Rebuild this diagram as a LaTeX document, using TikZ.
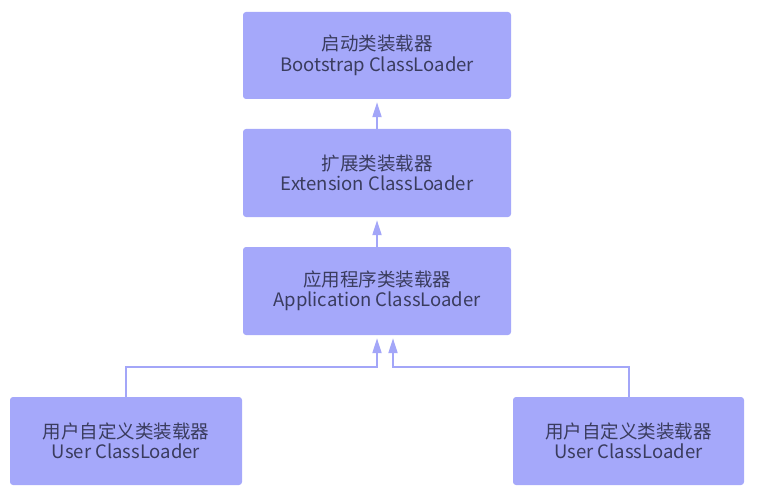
\documentclass[tikz,border=0pt]{standalone}
\usepackage{fontspec}
\setmainfont{Noto Sans CJK SC}
\usetikzlibrary{arrows.meta}
\definecolor{boxfill}{HTML}{A5A8FA}
\definecolor{linecol}{HTML}{A3A6F8}
\definecolor{txt}{HTML}{3A3C5E}
\tikzset{
  loader/.style={fill=boxfill, draw=none, rounded corners=3pt, align=center,
    text=txt, font=\fontsize{18.5}{20.5}\selectfont, inner sep=0pt},
  link/.style={draw=linecol, line width=2pt,
    -{Triangle[width=9pt,length=15pt]}, shorten >=3pt}
}
\begin{document}
\begin{tikzpicture}[x=1pt,y=-1pt]
\useasboundingbox (0,0) rectangle (759,494);
\node[loader, minimum width=268pt, minimum height=87pt] (boot) at (377,55.5)
  {启动类装载器\\Bootstrap ClassLoader};
\node[loader, minimum width=268pt, minimum height=88pt] (ext) at (377,173)
  {扩展类装载器\\Extension ClassLoader};
\node[loader, minimum width=268pt, minimum height=88pt] (app) at (377,291)
  {应用程序类装载器\\Application ClassLoader};
\node[loader, minimum width=232pt, minimum height=88pt] (user1) at (126,441)
  {用户自定义类装载器\\User ClassLoader};
\node[loader, minimum width=231pt, minimum height=88pt] (user2) at (628.5,441)
  {用户自定义类装载器\\User ClassLoader};
\coordinate (j1) at (377,367);
\coordinate (j2) at (393,367);
\draw[link] (ext.north) -- (boot.south);
\draw[link] (app.north) -- (ext.south);
\draw[link] (user1.north) |- (j1) -- (j1 |- app.south);
\draw[link] (user2.north) |- (j2) -- (j2 |- app.south);
\end{tikzpicture}
\end{document}
